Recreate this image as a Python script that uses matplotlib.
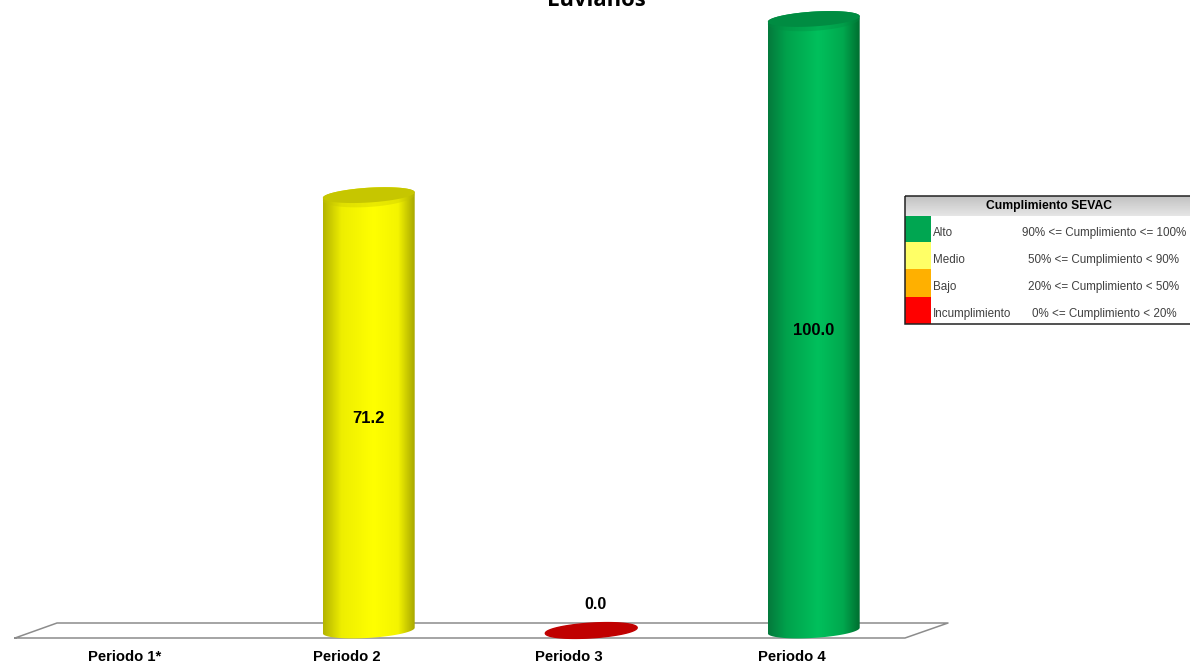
import matplotlib
matplotlib.use("Agg")
import matplotlib.pyplot as plt
from matplotlib.colors import LinearSegmentedColormap
from matplotlib.patches import PathPatch, Rectangle
from matplotlib.path import Path
from matplotlib.transforms import ScaledTranslation
import numpy as np

TITLE = "Luvianos"
PERIODOS = ["Periodo 1*", "Periodo 2", "Periodo 3", "Periodo 4"]
VALORES = [None, 71.2, 0.0, 100.0]
TONOS = [None,
         ["#b4b400", "#eeee00", "#ffff00", "#f4f400", "#a8a800"],
         ["#c00000", "#c00000", "#c00000", "#c00000", "#c00000"],
         ["#047a3c", "#00a24c", "#00c05c", "#00a84e", "#006f30"]]
TAPAS = [None, "#c6c600", "#c00000", "#008c42"]

NIVELES = ["Alto", "Medio", "Bajo", "Incumplimiento"]
RANGOS = ["90% <= Cumplimiento <= 100%", "50% <= Cumplimiento < 90%",
          "20% <= Cumplimiento < 50%", "0% <= Cumplimiento < 20%"]
COLORES = ["#00a651", "#ffff66", "#ffb000", "#ff0000"]

W, H = 1190, 664
fig = plt.figure(figsize=(W / 100, H / 100), dpi=100)

# pixel layer for the floor and the legend box
bg = fig.add_axes([0, 0, 1, 1])
bg.axis("off")

# plot area: y=0 at 630.5 px, y=100 at 19 px
ax = fig.add_axes([35 / W, (H - 630.5) / H, 890 / W, 611.5 / H])
ax.patch.set_alpha(0)
for s in ax.spines.values():
    s.set_visible(False)
ax.set_yticks([])
ax.set_xticks(range(len(PERIODOS)))
ax.set_xticklabels(PERIODOS, fontfamily="Liberation Sans", fontweight="bold", fontsize=10.7)
ax.tick_params(axis="x", length=0, pad=14)
shift = ScaledTranslation(-22 / 100, 0, fig.dpi_scale_trans)
for lab in ax.get_xticklabels():
    lab.set_transform(lab.get_transform() + shift)

bg.plot([15, 905, 948, 57, 15], [638, 638, 623, 623, 638], color="#8c8c8c", lw=1.1)

bar_w = 0.413
rx = bar_w / 2
ry = 7.4 / 6.115
lean = 0.38  # the ends of the cylinders lean up to the right


def ellipse_pts(xc, yc, grow=1.0, n=80):
    t = np.linspace(0, 2 * np.pi, n)
    return xc + rx * np.cos(t), yc + grow * ry * np.sin(t) + lean * ry * np.cos(t)


for i, v in enumerate(VALORES):
    if v is None:
        continue
    if v == 0:
        ex, ey = ellipse_pts(i, v)
        ax.fill(ex, ey, color=TAPAS[i], clip_on=False, zorder=3)
        ax.text(i + 0.018, 4.2, "%.1f" % v, ha="center", va="center", fontsize=11.5,
                fontweight="bold", fontfamily="Liberation Sans")
        continue
    # cylinder body: round bottom + round top, filled with a sideways gradient
    t = np.linspace(np.pi, 2 * np.pi, 60)
    xb = i + rx * np.cos(t)
    yb = -ry * np.abs(np.sin(t)) + lean * ry * np.cos(t)
    xt = xb[::-1]
    yt = v + lean * ry * np.cos(t[::-1]) + ry * np.abs(np.sin(t))
    verts = np.column_stack([np.r_[xb, xt], np.r_[yb, yt]])
    clip = PathPatch(Path(verts), transform=ax.transData, fc="none", ec="none")
    ax.add_patch(clip)
    cmap = LinearSegmentedColormap.from_list("c%d" % i, list(zip([0, 0.2, 0.55, 0.82, 1], TONOS[i])))
    im = ax.imshow(np.linspace(0, 1, 128)[None, :], cmap=cmap, aspect="auto",
                   extent=[i - rx, i + rx, -ry * 2, v + ry * 2], zorder=2)
    im.set_clip_box(fig.bbox)
    im.set_clip_path(clip)
    # soft lower rim under the cap, then the cap itself
    ex, ey = ellipse_pts(i, v - 0.3 * ry, grow=1.3)
    ax.fill(ex, ey, color=TAPAS[i], alpha=0.35, lw=0, clip_on=False, zorder=3)
    ex, ey = ellipse_pts(i, v)
    ax.fill(ex, ey, color=TAPAS[i], lw=0, clip_on=False, zorder=3)
    ax.text(i, v / 2 - 1, "%.1f" % v, ha="center", va="center", fontsize=12,
            fontweight="bold", fontfamily="Liberation Sans", zorder=4)

ax.set_xlim(-0.5, 3.5)
ax.set_ylim(0, 100)

fig.text(596 / W, 1 - 6 / H, TITLE, ha="center", va="baseline", fontsize=15.8,
         fontweight="bold", fontfamily="Open Sans")

# legend table
fam = "Liberation Sans"
bg.imshow(np.linspace(0.76, 0.9, 32)[:, None], cmap="gray", vmin=0, vmax=1, aspect="auto",
          extent=[905, 1190, 216, 196], zorder=1)
bg.set_xlim(0, W)
bg.set_ylim(H, 0)
bg.text(1049, 206, "Cumplimiento SEVAC", ha="center", va="center", fontsize=8.7,
        fontweight="bold", fontfamily=fam, zorder=3)
filas = [216, 242, 269, 297, 324]
texto_y = [233, 260, 287, 314]
for k in range(4):
    bg.add_patch(Rectangle((905, filas[k]), 26, filas[k + 1] - filas[k], fc=COLORES[k], ec="none", zorder=2))
    bg.text(933, texto_y[k], NIVELES[k], ha="left", va="center", fontsize=8.4, color="#404040",
            fontfamily=fam, zorder=3)
    bg.text(1104, texto_y[k], RANGOS[k], ha="center", va="center", fontsize=8.4, color="#404040",
            fontfamily=fam, zorder=3)
bg.add_patch(Rectangle((905, 196), 290, 128, fc="none", ec="#222222", lw=1.1, zorder=4))

fig.savefig("out.png", dpi=100)
